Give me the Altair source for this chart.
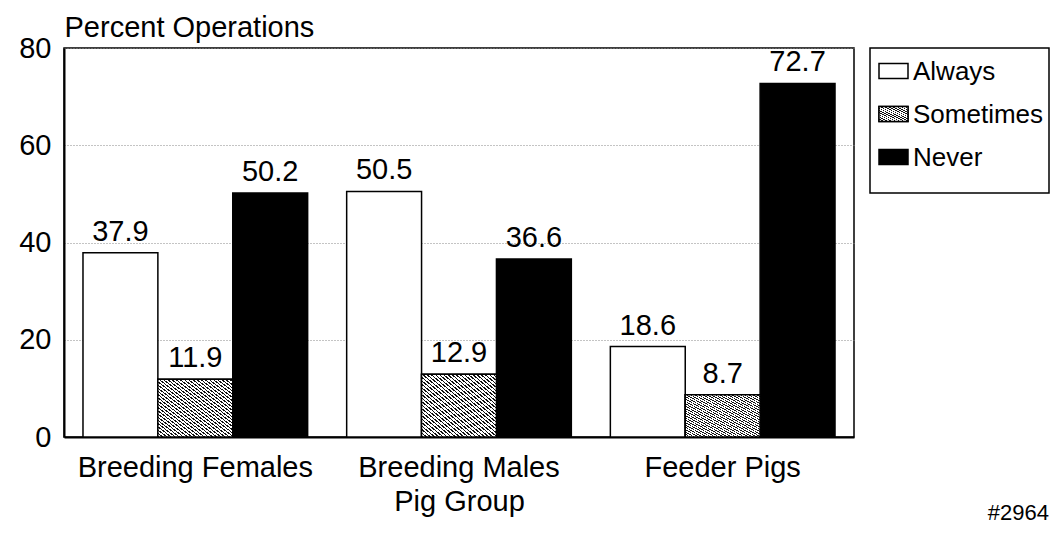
import altair as alt
import pandas as pd

groups = ["Breeding Females", "Breeding Males", "Feeder Pigs"]
series = ["Always", "Sometimes", "Never"]
always = [37.9, 50.5, 18.6]
sometimes = [11.9, 12.9, 8.7]
never = [50.2, 36.6, 72.7]
y_ticks = [0, 20, 40, 60, 80]
y_title = "Percent Operations"
x_title = "Pig Group"
note = "#2964"

rows = []
for i, g in enumerate(groups):
    for s, vals in zip(series, [always, sometimes, never]):
        rows.append({"group": g, "series": s, "value": vals[i], "label": f"{vals[i]:.1f}"})
df = pd.DataFrame(rows)

FONT = "Liberation Sans"
FS = 29


def hatch(n, dark=0.38):
    stops = []
    for k in range(n):
        a = k / n
        b = (k + dark) / n
        c = (k + 1) / n
        stops += [
            {"offset": a, "color": "#111111"},
            {"offset": b, "color": "#111111"},
            {"offset": b, "color": "white"},
            {"offset": c, "color": "white"},
        ]
    return {"gradient": "linear", "x1": 0, "y1": 1, "x2": 1, "y2": 0, "stops": stops}


fill_scale = alt.Scale(domain=series, range=["white", "white", "black"])

x_enc = alt.X(
    "group:N",
    sort=groups,
    scale=alt.Scale(domain=groups, paddingInner=0.148, paddingOuter=0.072),
    axis=alt.Axis(
        title=x_title, labelAngle=0, labelFontSize=FS, labelFont=FONT, labelColor="black",
        labelPadding=16, labelLimit=0, ticks=False, tickSize=0, domainColor="black", domainWidth=2,
        titleFontSize=FS, titleFont=FONT, titleFontWeight="normal", titleColor="black",
        titlePadding=5,
    ),
)
xo = alt.XOffset("series:N", scale=alt.Scale(domain=series, paddingInner=0, paddingOuter=0))
y_enc = alt.Y(
    "value:Q",
    scale=alt.Scale(domain=[0, 80], nice=False),
    axis=alt.Axis(
        values=y_ticks, title=y_title, titleAngle=0, titleAlign="left", titleBaseline="alphabetic",
        titleX=0, titleY=-12, titleFontSize=FS, titleFont=FONT, titleFontWeight="normal",
        titleColor="black", grid=True, gridDash=[1, 2], gridColor="#888888", gridWidth=1,
        ticks=False, tickSize=0, labelPadding=13, labelFontSize=FS, labelFont=FONT,
        labelColor="black", domainColor="black", domainWidth=2,
    ),
)

base = alt.Chart(df).encode(x=x_enc, xOffset=xo)
bars = base.mark_bar(stroke="black", strokeWidth=1.5).encode(
    y=y_enc, fill=alt.Fill("series:N", scale=fill_scale, legend=None)
)
hatched = (
    base.transform_filter(alt.datum.series == "Sometimes")
    .mark_bar(stroke="black", strokeWidth=1.5, fill=hatch(36))
    .encode(y=alt.Y("value:Q"))
)
labels = base.mark_text(baseline="alphabetic", dy=-12, fontSize=FS, font=FONT, color="black").encode(
    y=alt.Y("value:Q"), text="label:N"
)
main = alt.layer(bars, hatched, labels).properties(width=790, height=389)

leg_df = pd.DataFrame({"series": series})
ly = alt.Y(
    "series:N", sort=series, axis=None,
    scale=alt.Scale(domain=series, range=[0, 132], paddingInner=0.65, paddingOuter=0.36),
)
leg_base = alt.Chart(leg_df).encode(y=ly)
leg_rect = leg_base.mark_rect(stroke="black", strokeWidth=1.5).encode(
    x=alt.value(9), x2=alt.value(38), fill=alt.Fill("series:N", scale=fill_scale, legend=None)
)
leg_hatch = (
    leg_base.transform_filter(alt.datum.series == "Sometimes")
    .mark_rect(stroke="black", strokeWidth=1.5, fill=hatch(14))
    .encode(x=alt.value(9), x2=alt.value(38))
)
leg_text = leg_base.mark_text(align="left", baseline="middle", dy=1, fontSize=26, font=FONT, color="black").encode(
    x=alt.value(43), text="series:N"
)
note_text = alt.Chart(pd.DataFrame({"note": [note]})).mark_text(
    align="right", baseline="alphabetic", fontSize=22, font=FONT, color="black"
).encode(x=alt.value(179), y=alt.value(472), text="note:N")
legend = alt.layer(leg_rect, leg_hatch, leg_text, note_text).properties(width=179, height=145)

chart = (
    alt.hconcat(main, legend, spacing=16, bounds="flush")
    .configure_view(stroke="black", strokeWidth=1.5)
    .properties(padding={"left": 9, "top": 4, "right": 0, "bottom": 0}, background="white")
)

chart.save("out.html", embed_options={"renderer": "svg", "actions": False})
